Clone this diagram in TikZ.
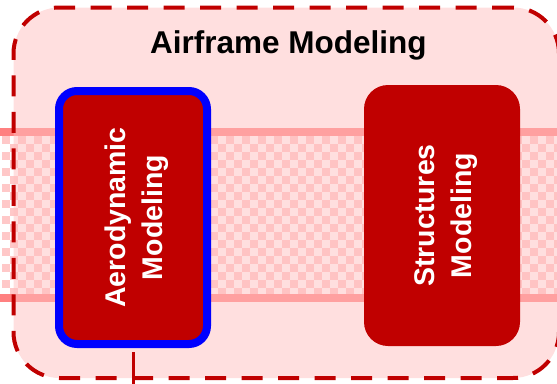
\documentclass[tikz,border=0pt]{standalone}
\usepackage{fontspec}
\setmainfont{Liberation Sans}
\definecolor{boxred}{HTML}{C00000}
\definecolor{bandline}{HTML}{FF8080}
\definecolor{bandcell}{HTML}{FFC8C8}
\definecolor{framefill}{HTML}{FFC0C0}
\definecolor{edgeblue}{HTML}{0000FF}
\tikzset{
  framebox/.style={draw=boxred, line width=4pt, dash pattern=on 21pt off 15.5pt,
    fill=framefill, fill opacity=0.5, rounded corners=46pt, inner sep=0pt},
  modelbox/.style={fill=boxred, inner sep=0pt, minimum width=156pt,
    minimum height=261pt, rounded corners=24pt},
  selectedbox/.style={modelbox, draw=edgeblue, line width=8pt,
    minimum width=148pt, minimum height=253pt, rounded corners=18pt},
  boxlabel/.style={text=white, font=\bfseries\fontsize{28.5}{37}\selectfont,
    align=center, rotate=90, inner sep=0pt},
  titlelabel/.style={font=\bfseries\fontsize{31.5}{36}\selectfont, inner sep=0pt},
  link/.style={draw=boxred, line width=3pt}
}
\begin{document}
\begin{tikzpicture}[x=1pt, y=-1pt]
  \useasboundingbox (0,0) rectangle (557,383);
  % checkered band behind the frame
  \begin{scope}
    \clip (0,136) rectangle (557,294);
    \foreach \i in {0,...,70}{
      \foreach \j in {0,...,19}{
        \pgfmathtruncatemacro\cellodd{mod(\i+\j,2)}
        \ifnum\cellodd=0
          \fill[bandcell] (\i*8+2,136+\j*8) rectangle ++(8,8);
        \fi
      }
    }
  \end{scope}
  \fill[bandline] (0,128) rectangle (557,136);
  \fill[bandline] (0,294) rectangle (557,302);
  % frame of the group
  \node[framebox, minimum width=545.5pt, minimum height=370.5pt] (frame) at (286.25,192.75) {};
  \node[titlelabel, anchor=base] (title) at (288.5,53) {Airframe Modeling};
  % model boxes
  \node[selectedbox] (aero) at (133,217.5) {};
  \node[boxlabel] (aerotext) at (137,217.5) {Aerodynamic\\Modeling};
  \node[modelbox] (struct) at (442,215.5) {};
  \node[boxlabel] (structtext) at (446,215.5) {Structures\\Modeling};
  % outgoing connector
  \coordinate (linkend) at (133,392);
  \draw[link, shorten <=4pt] (aero.south) -- (linkend);
\end{tikzpicture}
\end{document}
